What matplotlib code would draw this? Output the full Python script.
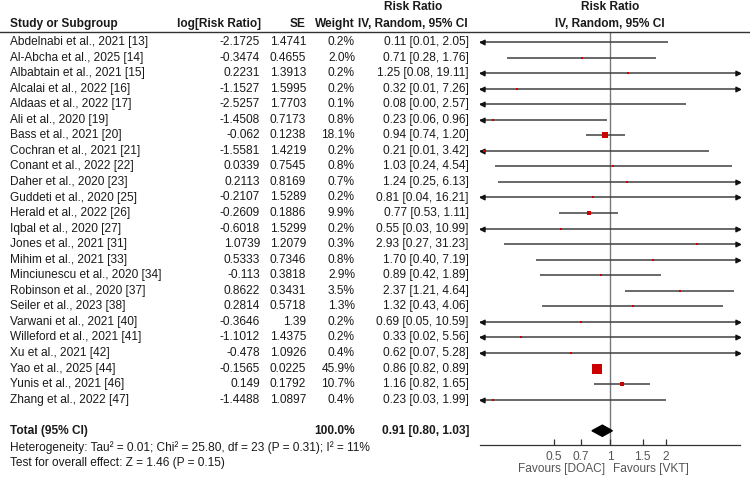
import numpy as np
import matplotlib
matplotlib.use("Agg")
import matplotlib.pyplot as plt
from matplotlib.transforms import blended_transform_factory

studies = ["Abdelnabi et al., 2021 [13]", "Al-Abcha et al., 2025 [14]", "Albabtain et al., 2021 [15]",
           "Alcalai et al., 2022 [16]", "Aldaas et al., 2022 [17]", "Ali et al., 2020 [19]",
           "Bass et al., 2021 [20]", "Cochran et al., 2021 [21]", "Conant et al., 2022 [22]",
           "Daher et al., 2020 [23]", "Guddeti et al., 2020 [25]", "Herald et al., 2022 [26]",
           "Iqbal et al., 2020 [27]", "Jones et al., 2021 [31]", "Mihim et al., 2021 [33]",
           "Minciunescu et al., 2020 [34]", "Robinson et al., 2020 [37]", "Seiler et al., 2023 [38]",
           "Varwani et al., 2021 [40]", "Willeford et al., 2021 [41]", "Xu et al., 2021 [42]",
           "Yao et al., 2025 [44]", "Yunis et al., 2021 [46]", "Zhang et al., 2022 [47]"]
log_rr = [-2.1725, -0.3474, 0.2231, -1.1527, -2.5257, -1.4508, -0.062, -1.5581, 0.0339, 0.2113,
          -0.2107, -0.2609, -0.6018, 1.0739, 0.5333, -0.113, 0.8622, 0.2814, -0.3646, -1.1012,
          -0.478, -0.1565, 0.149, -1.4488]
se = [1.4741, 0.4655, 1.3913, 1.5995, 1.7703, 0.7173, 0.1238, 1.4219, 0.7545, 0.8169, 1.5289,
      0.1886, 1.5299, 1.2079, 0.7346, 0.3818, 0.3431, 0.5718, 1.39, 1.4375, 1.0926, 0.0225,
      0.1792, 1.0897]
weight = [0.2, 2.0, 0.2, 0.2, 0.1, 0.8, 18.1, 0.2, 0.8, 0.7, 0.2, 9.9, 0.2, 0.3, 0.8, 2.9, 3.5,
          1.3, 0.2, 0.2, 0.4, 45.9, 10.7, 0.4]
rr = [0.11, 0.71, 1.25, 0.32, 0.08, 0.23, 0.94, 0.21, 1.03, 1.24, 0.81, 0.77, 0.55, 2.93, 1.70,
      0.89, 2.37, 1.32, 0.69, 0.33, 0.62, 0.86, 1.16, 0.23]
ci_lo = [0.01, 0.28, 0.08, 0.01, 0.00, 0.06, 0.74, 0.01, 0.24, 0.25, 0.04, 0.53, 0.03, 0.27, 0.40,
         0.42, 1.21, 0.43, 0.05, 0.02, 0.07, 0.82, 0.82, 0.03]
ci_hi = [2.05, 1.76, 19.11, 7.26, 2.57, 0.96, 1.20, 3.42, 4.54, 6.13, 16.21, 1.11, 10.99, 31.23,
         7.19, 1.89, 4.64, 4.06, 10.59, 5.56, 5.28, 0.89, 1.65, 1.99]
total_rr, total_lo, total_hi = 0.91, 0.80, 1.03
total_weight = 100.0
heterogeneity = "Heterogeneity: Tau\u00b2 = 0.01; Chi\u00b2 = 25.80, df = 23 (P = 0.31); I\u00b2 = 11%"
overall = "Test for overall effect: Z = 1.46 (P = 0.15)"
xticks = [0.5, 0.7, 1, 1.5, 2]
xticklabels = ["0.5", "0.7", "1", "1.5", "2"]
xlim = (0.2, 5)

W, H = 750, 484
plt.rcParams['font.family'] = ['Liberation Sans', 'DejaVu Sans']
FS = 8.6
TXT = '#1a1a1a'

fig = plt.figure(figsize=(W / 100, H / 100), dpi=100)
fig.patch.set_facecolor('white')

# forest axes (pixel layout)
ax_l, ax_r, ax_t, ax_b = 480, 740, 32, 445
ax = fig.add_axes([ax_l / W, 1 - ax_b / H, (ax_r - ax_l) / W, (ax_b - ax_t) / H])
ax.set_xscale('log')
ax.set_xlim(*xlim)
row0_px, row_step = 42, 15.55
ax.set_ylim((ax_b - row0_px) / row_step, (ax_t - row0_px) / row_step)
for s in ['top', 'left', 'right']:
    ax.spines[s].set_visible(False)
ax.spines['bottom'].set_color('#333333')
ax.spines['bottom'].set_linewidth(0.9)
ax.set_yticks([])
ax.set_xticks(xticks)
ax.set_xticklabels(xticklabels)
ax.minorticks_off()
ax.tick_params(axis='x', direction='in', length=4, width=0.9, color='#333333',
               labelsize=FS, labelcolor='#555555', pad=4)
ax.axvline(1, color='#7a7a7a', lw=1.0, zorder=1)

larrow = [(0, 0), (2, 1), (2, -1), (0, 0)]
rarrow = [(0, 0), (-2, 1), (-2, -1), (0, 0)]
n = len(studies)
for i in range(n):
    lo = max(ci_lo[i], xlim[0])
    hi = min(ci_hi[i], xlim[1])
    ax.plot([lo, hi], [i, i], color='#404040', lw=1.1, zorder=2, solid_capstyle='butt')
    if ci_lo[i] < xlim[0]:
        ax.plot([xlim[0]], [i], marker=larrow, ms=6.5, color='#111111', clip_on=False, zorder=3)
    if ci_hi[i] > xlim[1]:
        ax.plot([xlim[1]], [i], marker=rarrow, ms=6.5, color='#111111', clip_on=False, zorder=3)
    side_px = max(2.0, 1.33 * np.sqrt(weight[i]))
    x = np.exp(log_rr[i])
    if xlim[0] <= x <= xlim[1]:
        ax.plot([x], [i], marker='s', ms=side_px * 0.72, color='#cc0000', mec='#cc0000',
                mew=0, zorder=4, linestyle='none')

total_row = n + 1
ax.fill([total_lo, total_rr, total_hi, total_rr], [total_row, total_row - 0.36, total_row, total_row + 0.36],
        color='black', zorder=4)

# table text
tr = blended_transform_factory(fig.transFigure, ax.transData)
def px(x):
    return x / W

for i in range(n):
    kw = dict(transform=tr, fontsize=FS, color=TXT, va='center')
    fig.text(px(10), i, studies[i], ha='left', **kw)
    fig.text(px(260), i, str(log_rr[i]), ha='right', **kw)
    fig.text(px(306), i, str(se[i]), ha='right', **kw)
    fig.text(px(355), i, "%.1f%%" % weight[i], ha='right', **kw)
    fig.text(px(469), i, "%.2f [%.2f, %.2f]" % (rr[i], ci_lo[i], ci_hi[i]), ha='right', **kw)

kwb = dict(transform=tr, fontsize=FS, color=TXT, va='center', fontweight='bold')
fig.text(px(10), total_row, "Total (95% CI)", ha='left', **kwb)
fig.text(px(355), total_row, "%.1f%%" % total_weight, ha='right', **kwb)
fig.text(px(469), total_row, "%.2f [%.2f, %.2f]" % (total_rr, total_lo, total_hi), ha='right', **kwb)

def ftext(x, y, s, **kw):
    d = dict(fontsize=FS, color=TXT, va='center')
    d.update(kw)
    fig.text(x / W, 1 - y / H, s, **d)

ftext(10, 448, heterogeneity, ha='left')
ftext(10, 463, overall, ha='left')

# headers
ftext(10, 24, "Study or Subgroup", ha='left', fontweight='bold')
ftext(261, 24, "log[Risk Ratio]", ha='right', fontweight='bold')
ftext(306, 24, "SE", ha='right', fontweight='bold')
ftext(355, 24, "Weight", ha='right', fontweight='bold')
ftext(413, 7.5, "Risk Ratio", ha='center', fontweight='bold')
ftext(413, 24, "IV, Random, 95% CI", ha='center', fontweight='bold')
ftext(610, 7.5, "Risk Ratio", ha='center', fontweight='bold')
ftext(610, 24, "IV, Random, 95% CI", ha='center', fontweight='bold')
fig.add_artist(plt.Line2D([0, 1], [1 - 32 / H, 1 - 32 / H], transform=fig.transFigure,
                          color='#333333', lw=1.0))

ftext(562, 469, "Favours [DOAC]", ha='center', color='#555555')
ftext(651, 469, "Favours [VKT]", ha='center', color='#555555')

fig.savefig("out.png", dpi=100, facecolor='white')
